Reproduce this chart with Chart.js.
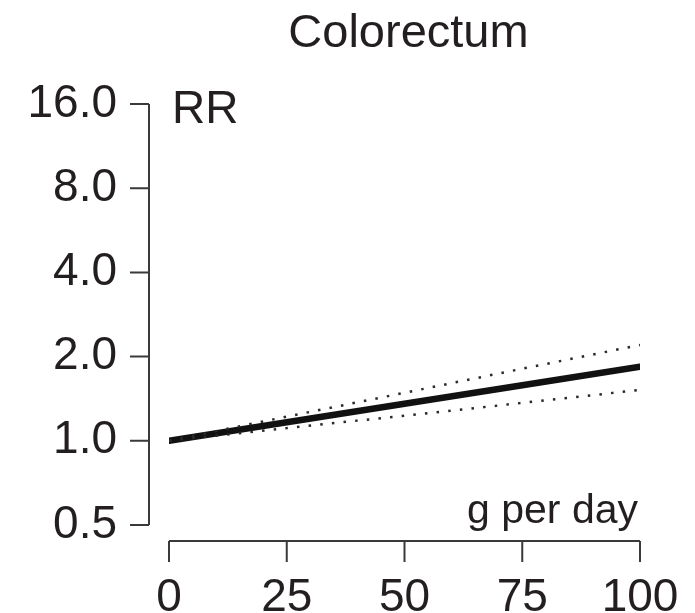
<!DOCTYPE html>
<html>
<head>
<meta charset="utf-8">
<script src="https://cdn.jsdelivr.net/npm/chart.js@4"></script>
<style>
	body { margin: 0; background: #fff; }
	canvas { display: block; }
</style>
</head>
<body>
<canvas id="rrChart" width="695" height="613"></canvas>
<script>
// valeurs
const doses = [0, 25, 50, 75, 100];
const rrMain = [1.0, 1.165, 1.356, 1.58, 1.84];
const rrUpper = [1.0, 1.22, 1.485, 1.81, 2.2];
const rrLower = [1.0, 1.11, 1.23, 1.366, 1.52];
const yTicks = [0.5, 1, 2, 4, 8, 16];
const yTickLabels = ["0.5", "1.0", "2.0", "4.0", "8.0", "16.0"];
const xTickLabels = ["0", "25", "50", "75", "100"];

const txtColor = "#231f20";
const axisColor = "#3a3a3a";
const fontFam = "'Liberation Sans', Arial, sans-serif";

function pts(vals) {
	return doses.map(function (d, i) { return { x: d, y: vals[i] }; });
}

// axes détachés façon R + textes
const rAxes = {
	id: "rAxes",
	afterDraw: function (chart) {
		const ctx = chart.ctx;
		const xs = chart.scales.x;
		const ys = chart.scales.y;
		const area = chart.chartArea;
		ctx.save();
		ctx.strokeStyle = axisColor;
		ctx.lineWidth = 2;
		ctx.lineCap = "butt";

		const yx = area.left - 20;
		ctx.beginPath();
		ctx.moveTo(yx, ys.getPixelForValue(yTicks[0]));
		ctx.lineTo(yx, ys.getPixelForValue(yTicks[yTicks.length - 1]));
		yTicks.forEach(function (v) {
			const py = ys.getPixelForValue(v);
			ctx.moveTo(yx, py);
			ctx.lineTo(yx - 19, py);
		});
		ctx.stroke();

		const xy = area.bottom + 16;
		ctx.beginPath();
		ctx.moveTo(xs.getPixelForValue(doses[0]), xy);
		ctx.lineTo(xs.getPixelForValue(doses[doses.length - 1]), xy);
		doses.forEach(function (d) {
			const px = xs.getPixelForValue(d);
			ctx.moveTo(px, xy);
			ctx.lineTo(px, xy + 21);
		});
		ctx.stroke();

		ctx.fillStyle = txtColor;
		ctx.textBaseline = "alphabetic";
		ctx.font = "47px " + fontFam;
		ctx.textAlign = "center";
		ctx.fillText("Colorectum", (area.left + area.right) / 2 + 4, 47);

		ctx.font = "46px " + fontFam;
		ctx.textAlign = "left";
		ctx.fillText("RR", area.left + 3, 123);

		ctx.font = "41px " + fontFam;
		ctx.textAlign = "right";
		ctx.fillText("g per day", area.right - 2, 523);
		ctx.restore();
	},
};

const ctx = document.getElementById("rrChart").getContext("2d");
const chart = new Chart(ctx, {
	type: "line",
	data: {
		datasets: [
			{
				data: pts(rrUpper),
				borderColor: "#2a2a2a",
				borderWidth: 2.5,
				borderDash: [2.5, 9.2],
				pointRadius: 0,
				fill: false,
			},
			{
				data: pts(rrLower),
				borderColor: "#2a2a2a",
				borderWidth: 2.5,
				borderDash: [2.5, 9.2],
				pointRadius: 0,
				fill: false,
			},
			{
				data: pts(rrMain),
				borderColor: "#111",
				borderWidth: 6.5,
				borderCapStyle: "round",
				pointRadius: 0,
				fill: false,
			},
		],
	},
	options: {
		responsive: false,
		animation: false,
		layout: {
			padding: { top: 104, right: 55, left: 0, bottom: 0 },
		},
		plugins: {
			legend: { display: false },
			title: { display: false },
			tooltip: { enabled: false },
		},
		scales: {
			x: {
				type: "linear",
				min: 0,
				max: 100,
				grid: { display: false, drawTicks: false },
				border: { display: false },
				afterFit: function (s) {
					s.height = 88;
					s.paddingLeft = 0;
					s.paddingRight = 0;
				},
				afterBuildTicks: function (s) {
					s.ticks = doses.map(function (d) { return { value: d }; });
				},
				ticks: {
					padding: 46,
					maxRotation: 0,
					autoSkip: false,
					color: txtColor,
					font: { family: fontFam, size: 46 },
					callback: function (v) { return xTickLabels[doses.indexOf(v)]; },
				},
			},
			y: {
				type: "logarithmic",
				min: 0.5,
				max: 16,
				grid: { display: false, drawTicks: false },
				border: { display: false },
				afterFit: function (s) {
					s.width = 169;
					s.paddingTop = 0;
					s.paddingBottom = 0;
				},
				afterBuildTicks: function (s) {
					s.ticks = yTicks.map(function (v) { return { value: v }; });
				},
				ticks: {
					padding: 52,
					autoSkip: false,
					color: txtColor,
					font: { family: fontFam, size: 46 },
					callback: function (v) { return yTickLabels[yTicks.indexOf(v)]; },
				},
			},
		},
	},
	plugins: [rAxes],
});
</script>
</body>
</html>
